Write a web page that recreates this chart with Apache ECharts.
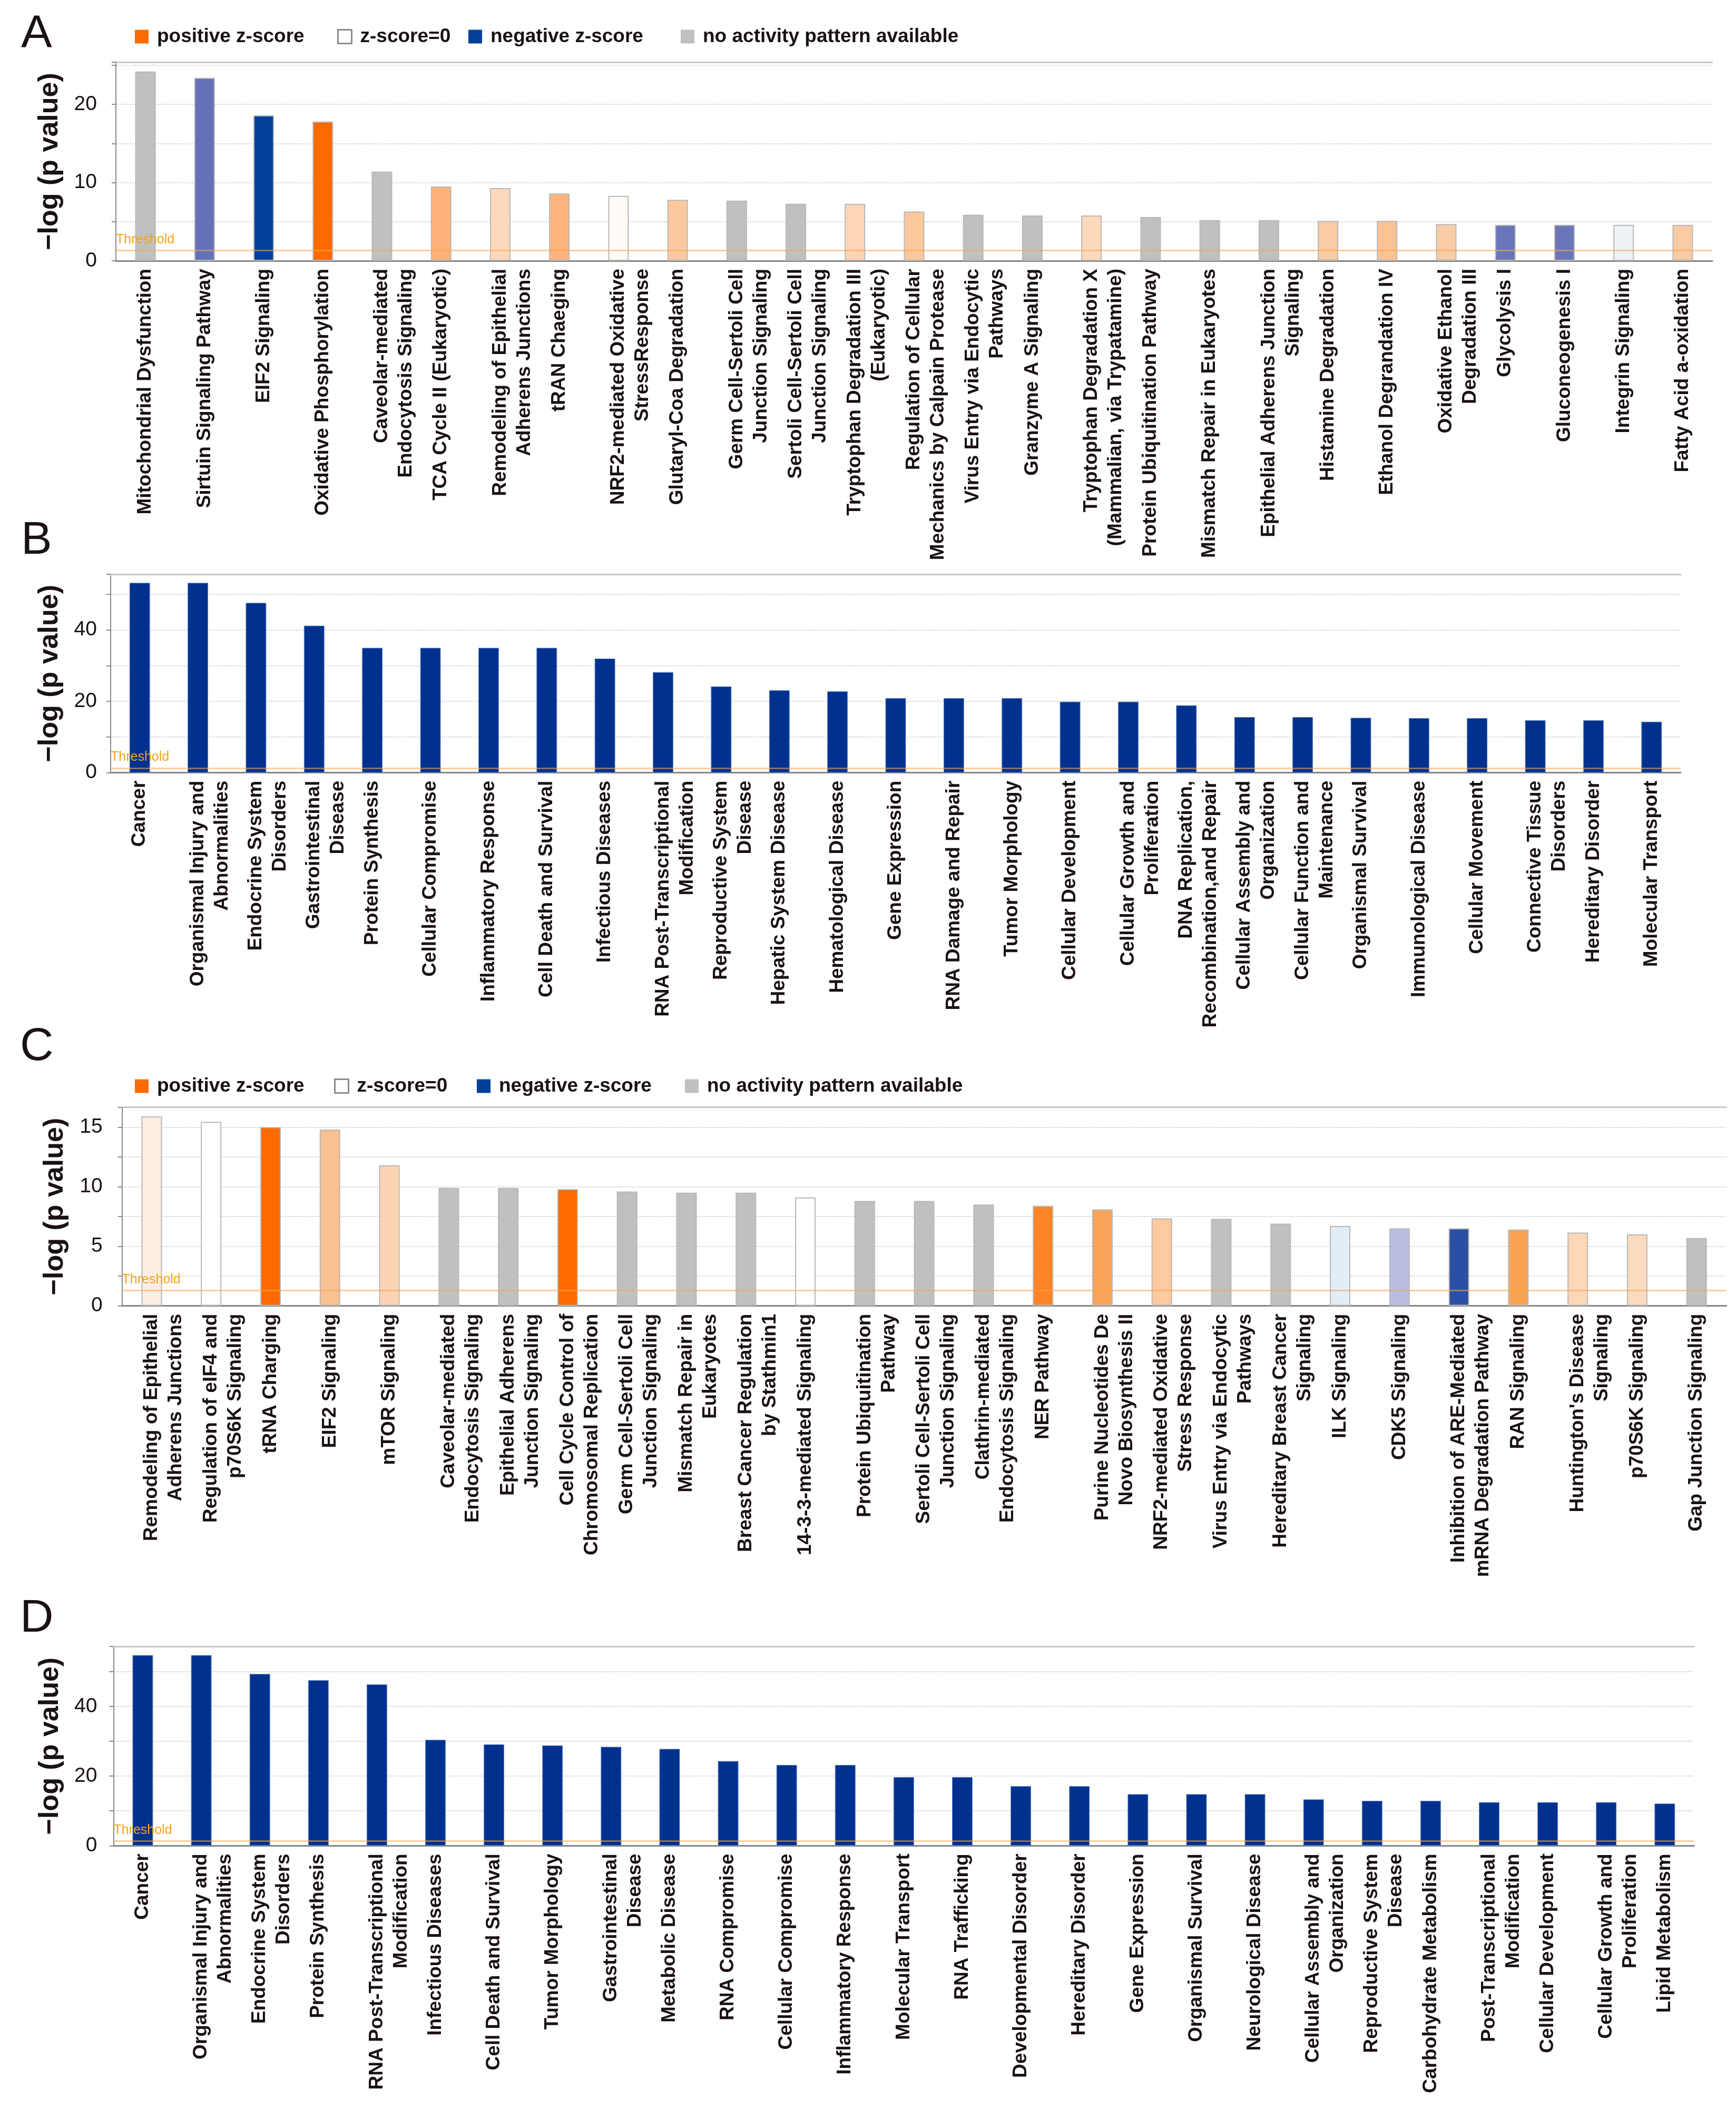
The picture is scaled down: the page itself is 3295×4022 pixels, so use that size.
<!DOCTYPE html>
<html><head><meta charset="utf-8">
<script src="https://cdn.jsdelivr.net/npm/echarts@6/dist/echarts.min.js"></script>
<style>html,body{margin:0;padding:0;background:#fff}#c{width:3295px;height:4022px}</style>
</head><body><div id="c"></div>
<script>
const FONT = '"Liberation Sans", Arial, Helvetica, sans-serif';
const INK = '#1a1111';

const legendNames = ['positive z-score', 'z-score=0', 'negative z-score', 'no activity pattern available'];
const panelLetters = ['A', 'B', 'C', 'D'];
const yTitle = '\u2212log (p value)';
const thresholdValue = 1.3;

const aLabels = [
  'Mitochondrial Dysfunction', 'Sirtuin Signaling Pathway', 'EIF2 Signaling', 'Oxidative Phosphorylation',
  'Caveolar-mediated\nEndocytosis Signaling', 'TCA Cycle II (Eukaryotic)', 'Remodeling of Epithelial\nAdherens Junctions',
  'tRAN Chaeging', 'NRF2-mediated Oxidative\nStressResponse', 'Glutaryl-Coa Degradation',
  'Germ Cell-Sertoli Cell\nJunction Signaling', 'Sertoli Cell-Sertoli Cell\nJunction Signaling',
  'Tryptophan Degradation III\n(Eukaryotic)', 'Regulation of Cellular\nMechanics by Calpain Protease',
  'Virus Entry via Endocytic\nPathways', 'Granzyme A Signaling', 'Tryptophan Degradation X\n(Mammalian, via Trypatamine)',
  'Protein Ubiquitination Pathway', 'Mismatch Repair in Eukaryotes', 'Epithelial Adherens Junction\nSignaling',
  'Histamine Degradation', 'Ethanol Degrandation IV', 'Oxidative Ethanol\nDegradation III', 'Glycolysis I',
  'Gluconeogenesis I', 'Integrin Signaling', 'Fatty Acid a-oxidation'
];
const aValues = [24.2, 23.4, 18.6, 17.8, 11.4, 9.5, 9.3, 8.6, 8.3, 7.8, 7.7, 7.3, 7.3, 6.3, 5.9, 5.8, 5.8, 5.6, 5.2, 5.2, 5.1, 5.1, 4.7, 4.6, 4.6, 4.6, 4.6];
const aColors = ['#c0c0c0', '#6372b8', '#00409a', '#ff6a00', '#c0c0c0', '#fdb27a', '#fdd8bb', '#fdb47c', '#fffaf5',
  '#fdc8a0', '#c0c0c0', '#c0c0c0', '#fdd4b4', '#fcc99d', '#c0c0c0', '#c0c0c0', '#fdd9bb', '#c0c0c0', '#c0c0c0',
  '#c0c0c0', '#f8cba3', '#fbc393', '#f9cca6', '#6a76b9', '#6a76b9', '#eef2f7', '#f9cba3'];

const bLabels = [
  'Cancer', 'Organismal Injury and\nAbnormalities', 'Endocrine System\nDisorders', 'Gastrointestinal\nDisease',
  'Protein Synthesis', 'Cellular Compromise', 'Inflammatory Response', 'Cell Death and Survival', 'Infectious Diseases',
  'RNA Post-Transcriptional\nModification', 'Reproductive System\nDisease', 'Hepatic System Disease',
  'Hematological Disease', 'Gene Expression', 'RNA Damage and Repair', 'Tumor Morphology', 'Cellular Development',
  'Cellular Growth and\nProliferation', 'DNA Replication,\nRecombination,and Repair', 'Cellular Assembly and\nOrganization',
  'Cellular Function and\nMaintenance', 'Organismal Survival', 'Immunological Disease', 'Cellular Movement',
  'Connective Tissue\nDisorders', 'Hereditary Disorder', 'Molecular Transport'
];
const bValues = [53.2, 53.2, 47.6, 41.2, 35.0, 35.0, 35.0, 35.0, 32.0, 28.2, 24.2, 23.1, 22.8, 20.9, 20.9, 20.9, 19.9, 19.9, 18.9, 15.6, 15.6, 15.4, 15.3, 15.3, 14.7, 14.7, 14.3];

const cLabels = [
  'Remodeling of Epithelial\nAdherens Junctions', 'Regulation of eIF4 and\np70S6K Signaling', 'tRNA Charging',
  'EIF2 Signaling', 'mTOR Signaling', 'Caveolar-mediated\nEndocytosis Signaling', 'Epithelial Adherens\nJunction Signaling',
  'Cell Cycle Control of\nChromosomal Replication', 'Germ Cell-Sertoli Cell\nJunction Signaling',
  'Mismatch Repair in\nEukaryotes', 'Breast Cancer Regulation\nby Stathmin1', '14-3-3-mediated Signaling',
  'Protein Ubiquitination\nPathway', 'Sertoli Cell-Sertoli Cell\nJunction Signaling', 'Clathrin-mediated\nEndocytosis Signaling',
  'NER Pathway', 'Purine Nucleotides De\nNovo Biosynthesis II', 'NRF2-mediated Oxidative\nStress Response',
  'Virus Entry via Endocytic\nPathways', 'Hereditary Breast Cancer\nSignaling', 'ILK Signaling', 'CDK5 Signaling',
  'Inhibition of ARE-Mediated\nmRNA Degradation Pathway', 'RAN Signaling', "Huntington's Disease\nSignaling",
  'p70S6K Signaling', 'Gap Junction Signaling'
];
const cValues = [15.9, 15.45, 15.0, 14.8, 11.8, 9.9, 9.9, 9.8, 9.6, 9.5, 9.5, 9.1, 8.8, 8.8, 8.5, 8.4, 8.1, 7.35, 7.3, 6.9, 6.7, 6.5, 6.5, 6.4, 6.15, 6.0, 5.7];
const cColors = ['#fdeee3', '#ffffff', '#ff6a00', '#f8c191', '#fcd3b3', '#c0c0c0', '#c0c0c0', '#ff6a00', '#c0c0c0',
  '#c0c0c0', '#c0c0c0', '#ffffff', '#c0c0c0', '#c0c0c0', '#c0c0c0', '#ff8427', '#f9a45a', '#fbca9e', '#c0c0c0',
  '#c0c0c0', '#e2edf8', '#b8bde0', '#2a50a5', '#f8a452', '#fcd7b8', '#fcdabd', '#c0c0c0'];

const dLabels = [
  'Cancer', 'Organismal Injury and\nAbnormalities', 'Endocrine System\nDisorders', 'Protein Synthesis',
  'RNA Post-Transcriptional\nModification', 'Infectious Diseases', 'Cell Death and Survival', 'Tumor Morphology',
  'Gastrointestinal\nDisease', 'Metabolic Disease', 'RNA Compromise', 'Cellular Compromise', 'Inflammatory Response',
  'Molecular Transport', 'RNA Trafficking', 'Developmental Disorder', 'Hereditary Disorder', 'Gene Expression',
  'Organismal Survival', 'Neurological Disease', 'Cellular Assembly and\nOrganization', 'Reproductive System\nDisease',
  'Carbohydrate Metabolism', 'Post-Transcriptional\nModification', 'Cellular Development',
  'Cellular Growth and\nProliferation', 'Lipid Metabolism'
];
const dValues = [54.7, 54.7, 49.3, 47.5, 46.3, 30.4, 29.1, 28.8, 28.4, 27.8, 24.3, 23.2, 23.2, 19.7, 19.7, 17.1, 17.1, 14.8, 14.8, 14.8, 13.3, 12.9, 12.9, 12.5, 12.5, 12.5, 12.1];

// ---- layout / styling (not data) ----
const NAVY = '#00318f';
const LINE_H = 46;
const panels = [
  {labels: aLabels, values: aValues, colors: aColors, left: 220, width: 3030, top: 118, height: 377, max: 25.4, interval: 5, labStep: 10, labMargin: 36, nameGap: 99, border: '#b8b8b8', letterX: 40, letterY: 66},
  {labels: bLabels, values: bValues, colors: null, left: 210, width: 2980, top: 1090, height: 376.7, max: 55.6, interval: 10, labStep: 20, labMargin: 26, nameGap: 89, border: '#6f8fc6', letterX: 40, letterY: 1027},
  {labels: cLabels, values: cValues, colors: cColors, left: 231.6, width: 3045, top: 2101.6, height: 377, max: 16.67, interval: 2.5, labStep: 5, labMargin: 37, nameGap: 101, border: '#b8b8b8', letterX: 38, letterY: 1988},
  {labels: dLabels, values: dValues, colors: null, left: 215.4, width: 3000, top: 3125, height: 378.3, max: 57.2, interval: 10, labStep: 20, labMargin: 31, nameGap: 94, border: '#6f8fc6', letterX: 38, letterY: 3073}
];

const legendStyles = {
  'positive z-score': {color: '#ff6a00', borderWidth: 0, opacity: 1},
  'z-score=0': {color: '#ffffff', borderColor: '#8c8c8c', borderWidth: 3, opacity: 1},
  'negative z-score': {color: '#00409a', borderWidth: 0, opacity: 1},
  'no activity pattern available': {color: '#c0c0c0', borderWidth: 0, opacity: 1}
};
const legendPos = [
  {top: 51, lefts: [256, 640, 889, 1292]},
  {top: 2043, lefts: [256, 634, 905, 1300]}
];

// first line of a two-line label sits on the bar; the second line follows to the right
const labelFormatter = v => (v.indexOf('\n') >= 0 ? '\n' + v : v);

const grids = [], xAxes = [], yAxes = [], series = [], graphics = [], legends = [];

panels.forEach((p, i) => {
  grids.push({left: p.left, width: p.width, top: p.top, height: p.height, containLabel: false, outerBoundsMode: 'none'});
  xAxes.push({
    gridIndex: i, type: 'category', position: 'bottom', data: p.labels,
    axisLine: {show: true, onZero: false, lineStyle: {color: '#858585', width: 3}},
    axisTick: {show: false},
    axisLabel: {interval: 0, rotate: 90, margin: 15, fontSize: 37, fontWeight: 'bold', fontFamily: FONT, color: INK, lineHeight: LINE_H, formatter: labelFormatter},
    splitLine: {show: false}
  });
  yAxes.push({
    gridIndex: i, type: 'value', min: 0, max: p.max, interval: p.interval,
    name: yTitle, nameLocation: 'middle', nameRotate: 90, nameGap: p.nameGap,
    nameTextStyle: {fontSize: 52, fontWeight: 'bold', fontFamily: FONT, color: INK},
    axisLine: {show: true, lineStyle: {color: '#8a8a8a', width: 2}},
    axisTick: {show: true, length: 8, lineStyle: {color: '#8a8a8a', width: 2}},
    axisLabel: {fontSize: 39, color: INK, fontFamily: FONT, margin: p.labMargin,
      formatter: v => (Math.abs(v / p.labStep - Math.round(v / p.labStep)) < 1e-6 ? String(v) : '')},
    splitLine: {show: true, lineStyle: {color: '#d0d0d0', width: 2, type: 'dotted'}}
  });
  series.push({
    type: 'bar', xAxisIndex: i, yAxisIndex: i, barWidth: 39,
    data: p.values.map((v, k) => ({value: v, itemStyle: {color: p.colors ? p.colors[k] : NAVY}})),
    itemStyle: {borderColor: p.border, borderWidth: p.colors ? 2 : 1},
    markLine: {
      silent: true, symbol: ['none', 'none'],
      data: [{yAxis: thresholdValue}],
      lineStyle: {color: 'rgba(249,165,70,0.55)', width: 3, type: 'solid'},
      label: {show: true, position: 'insideStartTop', formatter: 'Threshold', color: '#f7a21b', fontSize: 25, fontFamily: FONT, distance: [0, 8]}
    }
  });
  graphics.push({
    type: 'text', x: p.letterX, y: p.letterY, z: 10,
    style: {text: panelLetters[i], fontSize: 88, fontFamily: FONT, fill: INK, align: 'left', verticalAlign: 'middle'}
  });
});
// top frame lines
panels.forEach((p, i) => {
  xAxes.push({
    gridIndex: i, type: 'category', position: 'top', data: p.labels,
    axisLine: {show: true, onZero: false, lineStyle: {color: '#c8c8c8', width: 3}},
    axisTick: {show: false}, axisLabel: {show: false}, splitLine: {show: false}
  });
});
// legend proxy series (no data)
legendNames.forEach(n => {
  series.push({type: 'scatter', name: n, xAxisIndex: 0, yAxisIndex: 0, data: [], itemStyle: legendStyles[n]});
});
legendPos.forEach(lp => {
  legendNames.forEach((n, k) => {
    legends.push({
      left: lp.lefts[k], top: lp.top, padding: 0, selectedMode: false, orient: 'horizontal',
      icon: 'rect', itemWidth: 26, itemHeight: 26,
      data: [{name: n, icon: 'rect', itemStyle: legendStyles[n]}],
      textStyle: {fontSize: 37, fontWeight: 'bold', color: INK, fontFamily: FONT, padding: [0, 0, 0, 11]}
    });
  });
});

const chart = echarts.init(document.getElementById('c'), null, {renderer: 'canvas', width: 3295, height: 4022});
chart.setOption({
  animation: false,
  backgroundColor: '#ffffff',
  textStyle: {fontFamily: FONT},
  grid: grids, xAxis: xAxes, yAxis: yAxes, series: series, legend: legends, graphic: graphics
});
</script>
</body></html>
